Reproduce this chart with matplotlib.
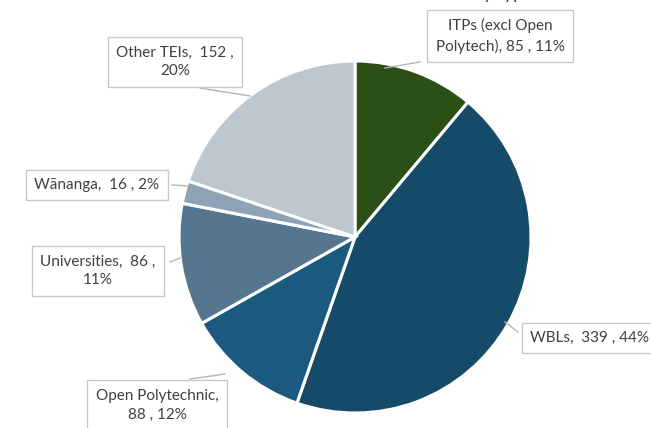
import matplotlib
matplotlib.use("Agg")
import matplotlib.pyplot as plt

categories = ["ITPs (excl Open Polytech)", "WBLs", "Open Polytechnic",
              "Universities", "Wānanga", "Other TEIs"]
values = [85, 339, 88, 86, 16, 152]
percents = [11, 44, 12, 11, 2, 20]
colors = ["#2a5015", "#154b69", "#1b5a7e", "#56768f", "#8ea3b6", "#bec7d0"]
label_texts = [
    "ITPs (excl Open\nPolytech), 85 , 11%",
    "WBLs,  339 , 44%",
    "Open Polytechnic,\n88 , 12%",
    "Universities,  86 ,\n11%",
    "Wānanga,  16 , 2%",
    "Other TEIs,  152 ,\n20%",
]
title = "Number of learners by type"

W, H = 651, 428
fig = plt.figure(figsize=(W / 100, H / 100), dpi=100)
ax = fig.add_axes([0, 0, 1, 1])

cx, cy, r = 355, H - 237, 176
wedges, _ = ax.pie(values, colors=colors, startangle=90, counterclock=False,
                   center=(cx, cy), radius=r,
                   wedgeprops=dict(edgecolor="white", linewidth=2.2))
ax.set_xlim(0, W)
ax.set_ylim(0, H)
ax.set_aspect("equal")
ax.axis("off")

# label box centers (pixel coords, y from top) and pointer targets
label_pos = [(500, 36), (590, 338), (157, 405), (98, 271), (97, 185), (175, 62)]
pointer_from = [(420, 62), (518, 332), (190, 379), (170, 262), (172, 185), (200, 88)]
pointer_to = [(385, 68), (505, 322), (225, 374), (180, 258), (188, 186), (250, 96)]

font = ["Lato", "DejaVu Sans"]
for txt, (x, y), p0, p1 in zip(label_texts, label_pos, pointer_from, pointer_to):
    ax.plot([p0[0], p1[0]], [H - p0[1], H - p1[1]], color="#b5b5b5", lw=1.0, zorder=3)
    ax.text(x, H - y, txt, ha="center", va="center", fontsize=11,
            family=font, color="#404040", linespacing=1.45, zorder=4,
            bbox=dict(boxstyle="square,pad=0.55", facecolor="white",
                      edgecolor="#c8c8c8", linewidth=1.0))

ax.text(533, H + 1.5, title, ha="right", va="baseline", fontsize=13,
        family=font, color="#404040", clip_on=False)

fig.savefig("out.png", dpi=100)
